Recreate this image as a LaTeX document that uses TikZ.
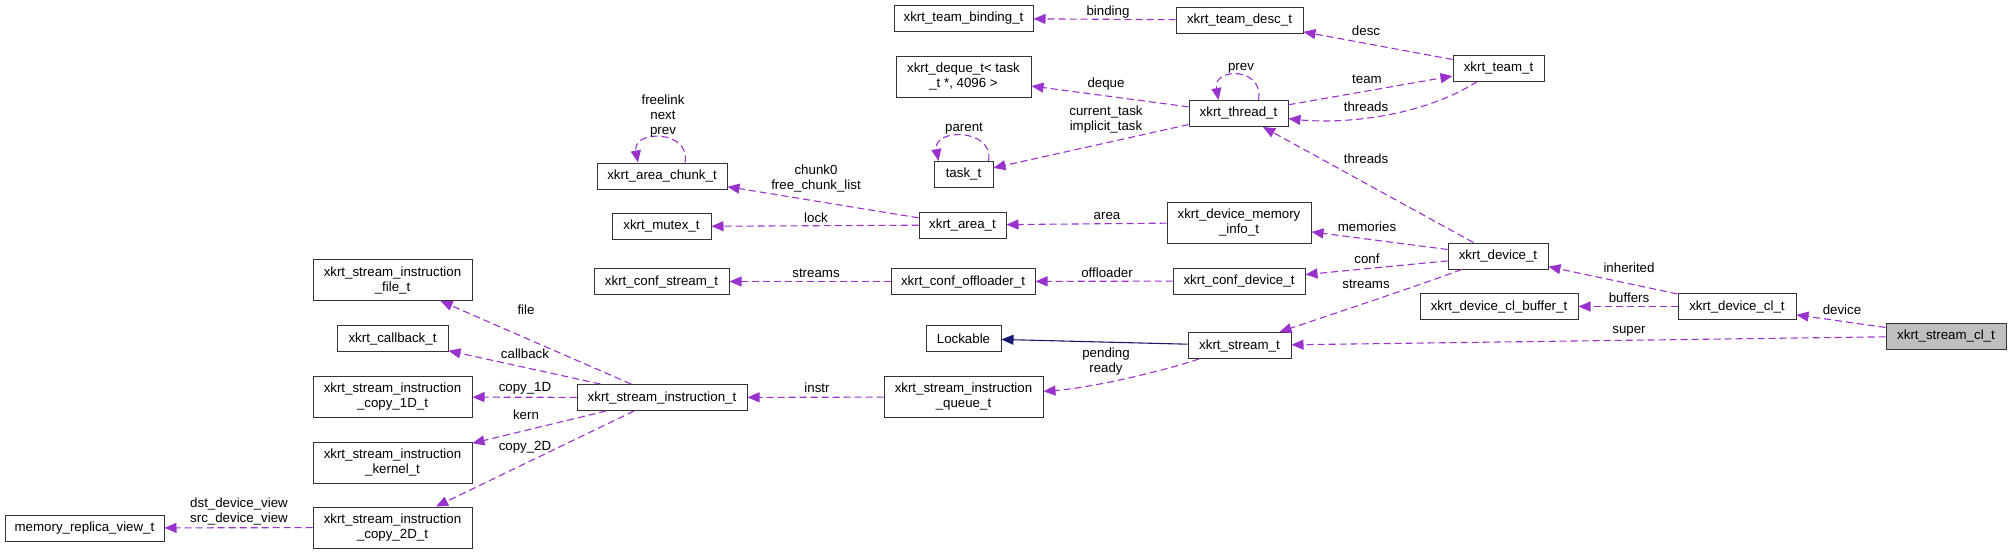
\documentclass[tikz,border=0pt]{standalone}
\usepackage{fontspec}
\setmainfont{Liberation Sans}
\usepackage{xcolor}
\usetikzlibrary{arrows.meta}
\definecolor{dorchid}{HTML}{9A32CD}
\definecolor{mblue}{HTML}{191970}
\definecolor{curgray}{HTML}{BFBFBF}

\begin{document}
\begin{tikzpicture}[
  x=1pt,y=-1pt,
  font=\fontsize{13.3}{15}\selectfont,
  cls/.style={draw=black!80,line width=1pt,fill=white,inner sep=1pt,
              minimum height=26pt,align=center},
  twoline/.style={minimum height=41pt},
  cur/.style={cls,fill=curgray},
  ar/.style={-{Triangle[length=12pt,width=10pt]},draw=dorchid,line width=1.1pt,
             dash pattern=on 7pt off 4pt},
  inh/.style={-{Triangle[length=12pt,width=10pt]},draw=mblue,line width=1.1pt},
  lbl/.style={align=center,inner sep=0pt}
]
\useasboundingbox (0,0) rectangle (2011,554);

\node[cls,minimum width=139pt] (bind) at (963.5,18.5) {xkrt\_team\_binding\_t};
\node[cls,minimum width=127pt] (desc) at (1239.5,20) {xkrt\_team\_desc\_t};
\node[cls,minimum width=91pt] (team) at (1498.5,68) {xkrt\_team\_t};
\node[cls,twoline,minimum width=135pt] (deque) at (963.5,77) {xkrt\_deque\_t< task\\ \_t *, 4096 >};
\node[cls,minimum width=99pt] (thread) at (1238.5,113.5) {xkrt\_thread\_t};
\node[cls,minimum width=59pt] (task) at (963.5,174.5) {task\_t};
\node[cls,minimum width=130pt] (chunk) at (662,176) {xkrt\_area\_chunk\_t};
\node[cls,minimum width=99pt] (mutex) at (661.5,226.5) {xkrt\_mutex\_t};
\node[cls,minimum width=87pt] (area) at (962.5,225) {xkrt\_area\_t};
\node[cls,twoline,minimum width=144pt] (meminfo) at (1239,222.5) {xkrt\_device\_memory\\ \_info\_t};
\node[cls,minimum width=100pt] (device) at (1498,256) {xkrt\_device\_t};
\node[cls,minimum width=135pt] (confstr) at (661.5,281.5) {xkrt\_conf\_stream\_t};
\node[cls,minimum width=144pt] (confoff) at (963,281.5) {xkrt\_conf\_offloader\_t};
\node[cls,minimum width=132pt] (confdev) at (1239,281) {xkrt\_conf\_device\_t};
\node[cls,minimum width=158pt] (clbuf) at (1499,306.5) {xkrt\_device\_cl\_buffer\_t};
\node[cls,minimum width=118pt] (devcl) at (1737,306.5) {xkrt\_device\_cl\_t};
\node[cur,minimum width=120pt] (streamcl) at (1946,336) {xkrt\_stream\_cl\_t};
\node[cls,minimum width=75pt] (lockable) at (963.5,338.5) {Lockable};
\node[cls,minimum width=103pt] (stream) at (1239.5,345.5) {xkrt\_stream\_t};
\node[cls,twoline,minimum width=159pt] (queue) at (963.5,397) {xkrt\_stream\_instruction\\ \_queue\_t};
\node[cls,minimum width=170pt] (instr) at (662,397.5) {xkrt\_stream\_instruction\_t};
\node[cls,twoline,minimum width=159pt] (ifile) at (392.5,280) {xkrt\_stream\_instruction\\ \_file\_t};
\node[cls,minimum width=111pt] (cback) at (392.5,338.5) {xkrt\_callback\_t};
\node[cls,twoline,minimum width=159pt] (copya) at (392.5,397) {xkrt\_stream\_instruction\\ \_copy\_1D\_t};
\node[cls,twoline,minimum width=159pt] (kernel) at (392.5,462.5) {xkrt\_stream\_instruction\\ \_kernel\_t};
\node[cls,twoline,minimum width=159pt] (copyb) at (392.5,527.5) {xkrt\_stream\_instruction\\ \_copy\_2D\_t};
\node[cls,minimum width=159pt] (replica) at (84.5,528) {memory\_replica\_view\_t};

% members
\foreach \x/\z in {desc/bind,team/desc,thread/team,thread/deque,thread/task,area/chunk,
  area/mutex,meminfo/area,device/thread,device/meminfo,device/confdev,confdev/confoff,
  confoff/confstr,devcl/device,devcl/clbuf,streamcl/devcl,streamcl/stream,queue/instr,
  instr/ifile,instr/cback,instr/copya,instr/kernel,instr/copyb,copyb/replica}{\draw[ar] (\x) -- (\z);}
\draw[ar] (team) .. controls (1420,118) and (1340,124) .. (thread);
\draw[ar] (device) .. controls (1420,285) and (1330,315) .. (stream);
\draw[ar] (stream) .. controls (1160,372) and (1090,388) .. (queue);
\draw[ar] ([xshift=20pt]thread.north) .. controls +(6,-33) and +(-6,-33) .. ([xshift=-20pt]thread.north);
\draw[ar] ([xshift=25pt]task.north) .. controls +(6,-33) and +(-6,-33) .. ([xshift=-25pt]task.north);
\draw[ar] ([xshift=23pt]chunk.north) .. controls +(6,-33) and +(-6,-33) .. ([xshift=-24pt]chunk.north);
\draw[inh] (stream) -- (lockable);

% labels
\node[lbl] (l-bind) at (1108,12) {binding};
\node[lbl] (l-desc) at (1366,31) {desc};
\node[lbl] (l-prev) at (1241,68) {prev};
\node[lbl] (l-deque) at (1106,84) {deque};
\node[lbl] (l-team) at (1367,79) {team};
\node[lbl] (l-thr) at (1366,107) {threads};
\node[lbl] (l-task) at (1106,119.5) {current\_task\\implicit\_task};
\node[lbl] (l-parent) at (964,129) {parent};
\node[lbl] (l-chunkself) at (663,116) {freelink\\next\\prev};
\node[lbl] (l-chunk) at (816,178.5) {chunk0\\free\_chunk\_list};
\node[lbl] (l-thr2) at (1366,159) {threads};
\node[lbl] (l-lock) at (816,218) {lock};
\node[lbl] (l-area) at (1107,216) {area};
\node[lbl] (l-mem) at (1367,227) {memories};
\node[lbl] (l-conf) at (1367,259) {conf};
\node[lbl] (l-str) at (816,273) {streams};
\node[lbl] (l-off) at (1107,273) {offloader};
\node[lbl] (l-inh) at (1629,268) {inherited};
\node[lbl] (l-str2) at (1366,284) {streams};
\node[lbl] (l-buf) at (1629,298) {buffers};
\node[lbl] (l-dev) at (1842,310) {device};
\node[lbl] (l-file) at (526,310) {file};
\node[lbl] (l-super) at (1629,331) {super};
\node[lbl] (l-pend) at (1106,361.5) {pending\\ready};
\node[lbl] (l-cb) at (525,354) {callback};
\node[lbl] (l-c1) at (525,388) {copy\_1D};
\node[lbl] (l-instr) at (817,388) {instr};
\node[lbl] (l-kern) at (526,415) {kern};
\node[lbl] (l-c2) at (525,447) {copy\_2D};
\node[lbl] (l-view) at (239,511.5) {dst\_device\_view\\src\_device\_view};
\end{tikzpicture}
\end{document}
